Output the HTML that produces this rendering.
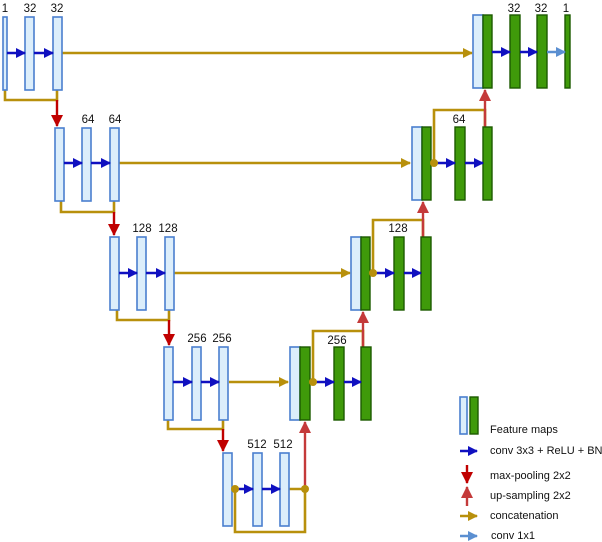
<!DOCTYPE html>
<html><head><meta charset="utf-8"><style>
html,body{margin:0;padding:0;background:#fff;}
svg{display:block;font-family:"Liberation Sans",Arial,sans-serif;}
.b{fill:#dcEEFb;stroke:#4a7fcf;stroke-width:1.6}
.g{fill:#3f9a0a;stroke:#1d5a00;stroke-width:1.4}
.c{stroke:#b8900c;stroke-width:2.6;fill:none}
.r{stroke:#c00000;stroke-width:2.4}
.ru{stroke:#c43a3a;stroke-width:2.4}
.a{stroke:#1010c0;stroke-width:2.6}
.l{stroke:#5b8fd1;stroke-width:2.6}
text{font-size:11.5px;fill:#111;text-anchor:middle}
.lg{text-anchor:start;font-size:11px}
</style></head><body>
<svg width="602" height="542" viewBox="0 0 602 542">
<defs>
<marker id="mb" markerWidth="10" markerHeight="10" refX="9" refY="5" orient="auto" markerUnits="userSpaceOnUse"><path d="M0,0 L10,5 L0,10 z" fill="#1010c0"/></marker>
<marker id="mc" markerWidth="10" markerHeight="10" refX="9" refY="5" orient="auto" markerUnits="userSpaceOnUse"><path d="M0,0 L10,5 L0,10 z" fill="#b8900c"/></marker>
<marker id="mr" markerWidth="12" markerHeight="12" refX="11" refY="6" orient="auto" markerUnits="userSpaceOnUse"><path d="M0,0 L12,6 L0,12 z" fill="#c00000"/></marker>
<marker id="mu" markerWidth="12" markerHeight="12" refX="11" refY="6" orient="auto" markerUnits="userSpaceOnUse"><path d="M0,0 L12,6 L0,12 z" fill="#c43a3a"/></marker>
<marker id="ml" markerWidth="10" markerHeight="10" refX="9" refY="5" orient="auto" markerUnits="userSpaceOnUse"><path d="M0,0 L10,5 L0,10 z" fill="#5b8fd1"/></marker>
</defs>

<!-- Level 1 encoder -->
<text x="5" y="12">1</text><text x="30" y="12">32</text><text x="57" y="12">32</text>
<path class="c" d="M5,90 V100 H57 V90"/>
<line class="r" x1="57" y1="100" x2="57" y2="126" marker-end="url(#mr)"/>
<line class="c" x1="62" y1="53" x2="472" y2="53" marker-end="url(#mc)"/>
<rect class="b" x="3" y="17" width="4" height="73"/>
<rect class="b" x="25" y="17" width="9" height="73"/>
<rect class="b" x="53" y="17" width="9" height="73"/>
<line class="a" x1="7" y1="53" x2="25" y2="53" marker-end="url(#mb)"/>
<line class="a" x1="34" y1="53" x2="53" y2="53" marker-end="url(#mb)"/>

<!-- Level 2 encoder -->
<text x="88" y="123">64</text><text x="115" y="123">64</text>
<path class="c" d="M61,200 V212 H114 V200"/>
<line class="r" x1="114" y1="212" x2="114" y2="235" marker-end="url(#mr)"/>
<line class="c" x1="119" y1="163" x2="410" y2="163" marker-end="url(#mc)"/>
<rect class="b" x="55" y="128" width="9" height="73"/>
<rect class="b" x="82" y="128" width="9" height="73"/>
<rect class="b" x="110" y="128" width="9" height="73"/>
<line class="a" x1="64" y1="163" x2="82" y2="163" marker-end="url(#mb)"/>
<line class="a" x1="91" y1="163" x2="110" y2="163" marker-end="url(#mb)"/>

<!-- Level 3 encoder -->
<text x="142" y="232">128</text><text x="168" y="232">128</text>
<path class="c" d="M117,310 V320 H169 V310"/>
<line class="r" x1="169" y1="320" x2="169" y2="345" marker-end="url(#mr)"/>
<line class="c" x1="174" y1="273" x2="350" y2="273" marker-end="url(#mc)"/>
<rect class="b" x="110" y="237" width="9" height="73"/>
<rect class="b" x="137" y="237" width="9" height="73"/>
<rect class="b" x="165" y="237" width="9" height="73"/>
<line class="a" x1="119" y1="273" x2="137" y2="273" marker-end="url(#mb)"/>
<line class="a" x1="146" y1="273" x2="165" y2="273" marker-end="url(#mb)"/>

<!-- Level 4 encoder -->
<text x="197" y="342">256</text><text x="222" y="342">256</text>
<path class="c" d="M168,420 V429 H223 V420"/>
<line class="r" x1="223" y1="429" x2="223" y2="451" marker-end="url(#mr)"/>
<line class="c" x1="229" y1="382" x2="288" y2="382" marker-end="url(#mc)"/>
<rect class="b" x="164" y="347" width="9" height="73"/>
<rect class="b" x="192" y="347" width="9" height="73"/>
<rect class="b" x="219" y="347" width="9" height="73"/>
<line class="a" x1="173" y1="382" x2="192" y2="382" marker-end="url(#mb)"/>
<line class="a" x1="201" y1="382" x2="219" y2="382" marker-end="url(#mb)"/>

<!-- Bottleneck -->
<text x="257" y="448">512</text><text x="283" y="448">512</text>
<path class="c" d="M235,489 V532 H305 V489 H289"/>
<line class="ru" x1="305" y1="489" x2="305" y2="422" marker-end="url(#mu)"/>
<rect class="b" x="223" y="453" width="9" height="73"/>
<rect class="b" x="253" y="453" width="9" height="73"/>
<rect class="b" x="280" y="453" width="9" height="73"/>
<line class="a" x1="236" y1="489" x2="253" y2="489" marker-end="url(#mb)"/>
<line class="a" x1="262" y1="489" x2="280" y2="489" marker-end="url(#mb)"/>
<circle cx="235" cy="489" r="4" fill="#b8900c"/>
<circle cx="305" cy="489" r="4" fill="#b8900c"/>

<!-- Decoder level 4 -->
<text x="337" y="344">256</text>
<path class="c" d="M313,382 V331 H363 V347"/>
<line class="ru" x1="363" y1="347" x2="363" y2="312" marker-end="url(#mu)"/>
<rect class="b" x="290" y="347" width="10" height="73"/>
<rect class="g" x="300" y="347" width="10" height="73"/>
<rect class="g" x="334" y="347" width="10" height="73"/>
<rect class="g" x="361" y="347" width="10" height="73"/>
<line class="a" x1="313" y1="382" x2="334" y2="382" marker-end="url(#mb)"/>
<line class="a" x1="344" y1="382" x2="361" y2="382" marker-end="url(#mb)"/>
<circle cx="313" cy="382" r="4" fill="#b8900c"/>

<!-- Decoder level 3 -->
<text x="398" y="232">128</text>
<path class="c" d="M373,273 V220 H423 V237"/>
<line class="ru" x1="423" y1="237" x2="423" y2="202" marker-end="url(#mu)"/>
<rect class="b" x="351" y="237" width="10" height="73"/>
<rect class="g" x="361" y="237" width="9" height="73"/>
<rect class="g" x="394" y="237" width="10" height="73"/>
<rect class="g" x="421" y="237" width="10" height="73"/>
<line class="a" x1="373" y1="273" x2="394" y2="273" marker-end="url(#mb)"/>
<line class="a" x1="404" y1="273" x2="421" y2="273" marker-end="url(#mb)"/>
<circle cx="373" cy="273" r="4" fill="#b8900c"/>

<!-- Decoder level 2 -->
<text x="459" y="123">64</text>
<path class="c" d="M434,163 V110 H485 V127"/>
<line class="ru" x1="485" y1="127" x2="485" y2="90" marker-end="url(#mu)"/>
<rect class="b" x="412" y="127" width="10" height="73"/>
<rect class="g" x="422" y="127" width="9" height="73"/>
<rect class="g" x="455" y="127" width="10" height="73"/>
<rect class="g" x="483" y="127" width="9" height="73"/>
<line class="a" x1="434" y1="163" x2="455" y2="163" marker-end="url(#mb)"/>
<line class="a" x1="465" y1="163" x2="483" y2="163" marker-end="url(#mb)"/>
<circle cx="434" cy="163" r="4" fill="#b8900c"/>

<!-- Decoder level 1 -->
<text x="514" y="12">32</text><text x="541" y="12">32</text><text x="566" y="12">1</text>
<rect class="b" x="473" y="15" width="10" height="73"/>
<rect class="g" x="483" y="15" width="9" height="73"/>
<rect class="g" x="510" y="15" width="10" height="73"/>
<rect class="g" x="537" y="15" width="10" height="73"/>
<rect class="g" x="565" y="15" width="5" height="73"/>
<line class="a" x1="492" y1="52" x2="510" y2="52" marker-end="url(#mb)"/>
<line class="a" x1="520" y1="52" x2="537" y2="52" marker-end="url(#mb)"/>
<line class="l" x1="547" y1="52" x2="565" y2="52" marker-end="url(#ml)"/>

<!-- Legend -->
<rect class="b" x="460" y="397" width="7" height="37"/>
<rect class="g" x="470" y="397" width="8" height="37"/>
<text class="lg" x="490" y="433">Feature maps</text>
<line class="a" x1="460" y1="451" x2="477" y2="451" marker-end="url(#mb)"/>
<text class="lg" x="490" y="454">conv 3x3 + ReLU + BN</text>
<line class="r" x1="467" y1="465" x2="467" y2="483" marker-end="url(#mr)"/>
<text class="lg" x="490" y="479">max-pooling 2x2</text>
<line class="ru" x1="467" y1="506" x2="467" y2="487" marker-end="url(#mu)"/>
<text class="lg" x="490" y="499">up-sampling 2x2</text>
<line class="c" x1="460" y1="516" x2="477" y2="516" marker-end="url(#mc)"/>
<text class="lg" x="490" y="519">concatenation</text>
<line class="l" x1="460" y1="536" x2="477" y2="536" marker-end="url(#ml)"/>
<text class="lg" x="491" y="539">conv 1x1</text>
</svg>
</body></html>
